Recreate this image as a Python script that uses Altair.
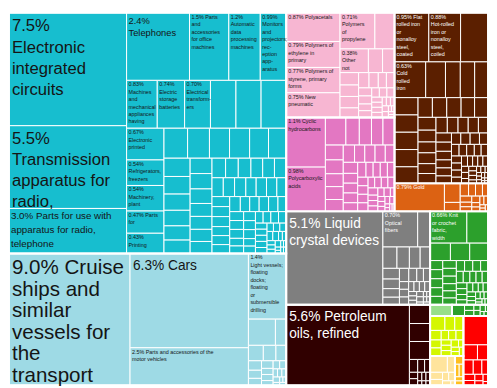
import altair as alt
import pandas as pd

# ---------------- data: export shares (%) ----------------
electronics_values = [7.5, 5.5, 3.0, 2.4, 1.5, 1.2, 0.99, 0.83, 0.74, 0.70, 0.69, 0.68, 0.68,
                      0.67, 0.54, 0.54, 0.47, 0.43, 0.40, 0.37, 0.34, 0.34, 0.32, 0.30,
                      0.27, 0.26, 0.24, 0.23, 0.21, 0.20, 0.19, 0.19, 0.18, 0.16, 0.16, 0.15,
                      0.15, 0.15, 0.14, 0.14, 0.13, 0.13, 0.13, 0.12, 0.12, 0.12, 0.11, 0.11,
                      0.11, 0.10, 0.10, 0.10, 0.10, 0.09, 0.09, 0.09, 0.09, 0.08, 0.08, 0.08,
                      0.08, 0.07, 0.07, 0.07, 0.07, 0.06, 0.06, 0.06, 0.06, 0.06, 0.05, 0.05,
                      0.05, 0.05, 0.05, 0.05, 0.04, 0.04, 0.04, 0.04, 0.04, 0.03, 0.03, 0.03,
                      0.03, 0.03, 0.02, 0.02, 0.02, 0.02, 0.02, 0.02, 0.01, 0.01, 0.01, 0.01,
                      0.01, 0.01]
electronics_labels = ["7.5%\nElectronic\nintegrated\ncircuits",
                      "5.5%\nTransmission\napparatus for\nradio,",
                      "3.0% Parts for use with\napparatus for radio,\ntelephone",
                      "2.4%\nTelephones",
                      "1.5% Parts\nand\naccessories\nfor office\nmachines",
                      "1.2%\nAutomatic\ndata\nprocessing\nmachines",
                      "0.99%\nMonitors\nand\nprojectors;\nrec-\neption\napp-\naratus",
                      "0.83%\nMachines\nand\nmechanical\nappliances\nhaving",
                      "0.74%\nElectric\nstorage\nbatteries",
                      "0.70%\nElectrical\ntransform-\ners",
                      "", "", "",
                      "0.67%\nElectronic\nprinted",
                      "0.54%\nRefrigerators,\nfreezers",
                      "0.54%\nMachinery,\nplant",
                      "0.47% Parts\nfor",
                      "0.43%\nPrinting"]

vehicles_values = [9.0, 6.3, 2.5, 1.4, 0.40, 0.16, 0.13, 0.11, 0.09, 0.07, 0.06, 0.05, 0.05,
                   0.04, 0.04, 0.03, 0.03, 0.03, 0.02, 0.02, 0.02, 0.02, 0.01, 0.01, 0.01, 0.01]
vehicles_labels = ["9.0% Cruise\nships and\nsimilar\nvessels for\nthe\ntransport",
                   "6.3% Cars",
                   "2.5% Parts and accessories of the\nmotor vehicles",
                   "1.4%\nLight vessels;\nfloating\ndocks;\nfloating\nor\nsubmersible\ndrilling"]

plastics_values = [0.87, 0.79, 0.77, 0.75, 0.71, 0.40, 0.38, 0.19, 0.16, 0.13, 0.12, 0.12,
                   0.10, 0.09, 0.08, 0.07, 0.07, 0.06, 0.06, 0.05, 0.05, 0.04, 0.04, 0.04,
                   0.03, 0.03, 0.03, 0.03, 0.02, 0.02, 0.02, 0.02, 0.02, 0.01, 0.01, 0.01, 0.01]
plastics_labels = ["0.87% Polyacetals",
                   "0.79% Polymers of\nethylene in\nprimary",
                   "0.77% Polymers of\nstyrene, primary\nforms",
                   "0.75% New\npneumatic",
                   "0.71%\nPolymers\nof\npropylene",
                   "",
                   "0.38%\nOther\nnot"]

chemicals_values = [1.1, 0.98, 0.32, 0.21, 0.19, 0.18, 0.18, 0.15, 0.14, 0.13, 0.13, 0.12,
                    0.11, 0.10, 0.10, 0.10, 0.09, 0.09, 0.08, 0.08, 0.08, 0.07, 0.07, 0.06,
                    0.06, 0.06, 0.06, 0.05, 0.05, 0.05, 0.05, 0.04, 0.04, 0.04, 0.04, 0.04,
                    0.03, 0.03, 0.03, 0.03, 0.03, 0.02, 0.02, 0.02, 0.02, 0.02, 0.02, 0.01,
                    0.01, 0.01, 0.01]
chemicals_labels = ["1.1% Cyclic\nhydrocarbons", "0.98%\nPolycarboxylic\nacids"]

metals_values = [0.95, 0.88, 0.76, 0.63, 0.40, 0.30, 0.29, 0.27, 0.23, 0.23, 0.23, 0.23, 0.22,
                 0.16, 0.16, 0.16, 0.15, 0.15, 0.13, 0.12, 0.11, 0.11, 0.10, 0.10, 0.10, 0.095,
                 0.09, 0.09, 0.085, 0.08, 0.08, 0.075, 0.07, 0.07, 0.065, 0.06, 0.06, 0.06,
                 0.055, 0.05, 0.05, 0.05, 0.045, 0.045, 0.04, 0.04, 0.04, 0.035, 0.035, 0.03,
                 0.03, 0.03, 0.03, 0.025, 0.025, 0.02, 0.02, 0.02, 0.02, 0.015, 0.015, 0.015,
                 0.01, 0.01, 0.01, 0.01, 0.01, 0.01, 0.005, 0.005, 0.005, 0.005]
metals_labels = ["0.95% Flat\nrolled iron\nor\nnonalloy\nsteel,\ncoated",
                 "0.88%\nHot-rolled\niron or\nnonalloy\nsteel,\ncoiled",
                 "",
                 "0.63%\nCold\nrolled\niron"]

gold_values = [0.79, 0.17, 0.08, 0.06, 0.05, 0.05, 0.04, 0.04, 0.03, 0.03, 0.03, 0.02, 0.02,
               0.02, 0.02, 0.01, 0.01, 0.01]
gold_labels = ["0.79% Gold"]

instruments_values = [5.1, 0.70, 0.25, 0.17, 0.15, 0.13, 0.12, 0.10, 0.09, 0.08, 0.07, 0.07,
                      0.06, 0.05, 0.05, 0.04, 0.04, 0.04, 0.03, 0.03, 0.03, 0.03, 0.02, 0.02,
                      0.02, 0.02, 0.02, 0.01, 0.01, 0.01, 0.01, 0.01, 0.01]
instruments_labels = ["5.1% Liquid\ncrystal devices", "0.70%\nOptical\nfibers"]

fuels_values = [5.6, 0.22, 0.21, 0.21, 0.06, 0.05, 0.04, 0.03, 0.03, 0.02, 0.02, 0.02, 0.01,
                0.01, 0.01]
fuels_labels = ["5.6% Petroleum\noils, refined"]

textiles_values = [0.66, 0.38, 0.20, 0.19, 0.18, 0.065, 0.065, 0.064, 0.062, 0.06, 0.06, 0.06,
                   0.058, 0.055, 0.055, 0.052, 0.05, 0.05, 0.048, 0.045, 0.045, 0.043, 0.04,
                   0.04, 0.038, 0.035, 0.035, 0.032, 0.03, 0.03, 0.028, 0.025, 0.025, 0.022,
                   0.02, 0.02, 0.018, 0.015, 0.015, 0.012, 0.01, 0.01, 0.01]
textiles_labels = ["0.66% Knit\nor crochet\nfabric,\nwidth"]

vegetable_values = [0.14]
textiles_other_values = [0.08, 0.03, 0.03, 0.02, 0.02, 0.02, 0.01, 0.01, 0.01]
agriculture_values = [0.12, 0.08, 0.07, 0.06, 0.05, 0.05, 0.04, 0.04, 0.04, 0.03, 0.03, 0.03,
                      0.03, 0.02, 0.02, 0.02, 0.02]
wood_values = [0.16, 0.07, 0.05, 0.04, 0.03, 0.03, 0.02, 0.01]
food_values = [0.04, 0.03, 0.03, 0.02, 0.02]
other_machinery_values = [0.40, 0.12, 0.09, 0.08, 0.07, 0.05, 0.04, 0.03, 0.03, 0.02, 0.02, 0.01]

GROUPS = {
    "Electronics": (electronics_values, electronics_labels),
    "Vehicles": (vehicles_values, vehicles_labels),
    "Plastics": (plastics_values, plastics_labels),
    "Chemicals": (chemicals_values, chemicals_labels),
    "Metals": (metals_values, metals_labels),
    "Precious metals": (gold_values, gold_labels),
    "Instruments": (instruments_values, instruments_labels),
    "Mineral fuels": (fuels_values, fuels_labels),
    "Textiles": (textiles_values, textiles_labels),
    "Vegetable products": (vegetable_values, []),
    "Textiles, other": (textiles_other_values, []),
    "Agriculture": (agriculture_values, []),
    "Wood products": (wood_values, []),
    "Foodstuffs": (food_values, []),
    "Machinery, other": (other_machinery_values, []),
}

HIERARCHY = ["Electronics", "Vehicles",
             ["Plastics", "Chemicals"],
             ["Metals", "Precious metals"],
             "Instruments", "Mineral fuels",
             ["Textiles", "Vegetable products", "Textiles, other"],
             ["Agriculture", "Wood products", "Foodstuffs"],
             "Machinery, other"]

# ---------------- styles ----------------
FILL = {
    "Electronics": "#17becf", "Vehicles": "#9edae5", "Plastics": "#f7b6d2",
    "Chemicals": "#e377c2", "Metals": "#5b1f00", "Precious metals": "#dc6213",
    "Instruments": "#7f7f7f", "Mineral fuels": "#300000", "Textiles": "#2ca02c",
    "Vegetable products": "#98df8a", "Textiles, other": "#2ca02c",
    "Agriculture": "#d4f700", "Wood products": "#ffe49c", "Foodstuffs": "#ffbf1f",
    "Machinery, other": "#ff0000",
}
DARK_TEXT = {"Electronics", "Vehicles", "Plastics", "Chemicals", "Agriculture", "Wood products",
             "Foodstuffs"}
INK = {k: ("#151515" if k in DARK_TEXT else "#ffffff") for k in FILL}
FONT = "Liberation Sans Narrow, Arial Narrow, Liberation Sans, Arial, sans-serif"
TEXT_STYLE = {
    "xl": dict(fontSize=21, lineHeight=22, dx=3, dy=4),
    "l": dict(fontSize=17, lineHeight=21.5, dx=3, dy=6),
    "m": dict(fontSize=14, lineHeight=17, dx=3, dy=6),
    "s": dict(fontSize=10, lineHeight=14, dx=2, dy=3),
    "t": dict(fontSize=9.5, lineHeight=12.5, dx=2, dy=3),
    "xs": dict(fontSize=5.5, lineHeight=7.6, dx=2, dy=2),
}
LABEL_CLASS = {"Electronics": ["l", "l", "s", "t"], "Vehicles": ["xl", "m"],
               "Instruments": ["m"], "Mineral fuels": ["m"]}
W, H = 489, 380
PHI = (1 + 5 ** 0.5) / 2


def squarify(values, x0, y0, x1, y1):
    """d3 squarified treemap tiling (golden ratio)."""
    out = []
    n = len(values)
    remaining = float(sum(values))
    i0 = 0
    while i0 < n:
        dx, dy = x1 - x0, y1 - y0
        i1 = i0
        s = values[i1]
        i1 += 1
        vmin = vmax = s
        alpha = max(dy / dx, dx / dy) / (remaining * PHI)
        beta = s * s * alpha
        best = max(vmax / beta, beta / vmin)
        while i1 < n:
            v = values[i1]
            s2 = s + v
            mn, mx = min(vmin, v), max(vmax, v)
            b = s2 * s2 * alpha
            r = max(mx / b, b / mn)
            if r > best:
                break
            s, vmin, vmax, best = s2, mn, mx, r
            i1 += 1
        row = values[i0:i1]
        last = i1 >= n
        if dx < dy:
            yb = y1 if last else y0 + dy * s / remaining
            xx = x0
            for v in row:
                w = dx * v / s
                out.append((xx, y0, xx + w, yb))
                xx += w
            y0 = yb
        else:
            xb = x1 if last else x0 + dx * s / remaining
            yy = y0
            for v in row:
                h = dy * v / s
                out.append((x0, yy, xb, yy + h))
                yy += h
            x0 = xb
        remaining -= s
        i0 = i1
    return out


def total(node):
    if isinstance(node, str):
        return sum(GROUPS[node][0])
    return sum(total(c) for c in node)


leaves, outlines = [], []


def layout(node, box):
    if isinstance(node, str):
        vals, labs = GROUPS[node]
        classes = LABEL_CLASS.get(node, [])
        outlines.append(dict(sector=node, x0=box[0], y0=box[1], x1=box[2], y1=box[3]))
        for i, (v, r) in enumerate(zip(vals, squarify(vals, *box))):
            lab = labs[i] if i < len(labs) else ""
            cls = classes[i] if i < len(classes) else "xs"
            leaves.append(dict(sector=node, value=v, label=lab, cls=cls,
                               x0=r[0], y0=r[1], x1=r[2], y1=r[3]))
        return
    rects = squarify([total(c) for c in node], *box)
    for c, r in zip(node, rects):
        layout(c, r)


layout(HIERARCHY, (0.0, 0.0, float(W), float(H)))
df = pd.DataFrame(leaves)
odf = pd.DataFrame(outlines)

xs = alt.Scale(domain=[0, W], nice=False, zero=False)
ys = alt.Scale(domain=[0, H], nice=False, zero=False, reverse=True)
fill_scale = alt.Scale(domain=list(FILL), range=list(FILL.values()))
ink_scale = alt.Scale(domain=list(INK), range=list(INK.values()))

pos = dict(x=alt.X("x0:Q", scale=xs, axis=None), x2="x1:Q",
           y=alt.Y("y0:Q", scale=ys, axis=None), y2="y1:Q")

cells = alt.Chart(df).mark_rect(stroke="white", strokeWidth=1).encode(
    color=alt.Color("sector:N", scale=fill_scale, legend=None), **pos)

borders = alt.Chart(odf).mark_rect(fillOpacity=0, stroke="white", strokeWidth=2).encode(**pos)

layers = [cells, borders]
for name, st in TEXT_STYLE.items():
    layers.append(
        alt.Chart(df)
        .transform_filter(f"datum.label != '' && datum.cls == '{name}'")
        .mark_text(align="left", baseline="top", lineBreak="\n", font=FONT, **st)
        .encode(x=alt.X("x0:Q", scale=xs, axis=None), y=alt.Y("y0:Q", scale=ys, axis=None),
                text="label:N",
                color=alt.Color("sector:N", scale=ink_scale, legend=None))
    )

chart = alt.layer(*layers).resolve_scale(
    color="independent"
).properties(width=W, height=H, padding=0).configure_view(strokeWidth=0)

chart.save("out.html", embed_options={"renderer": "svg", "actions": False})
